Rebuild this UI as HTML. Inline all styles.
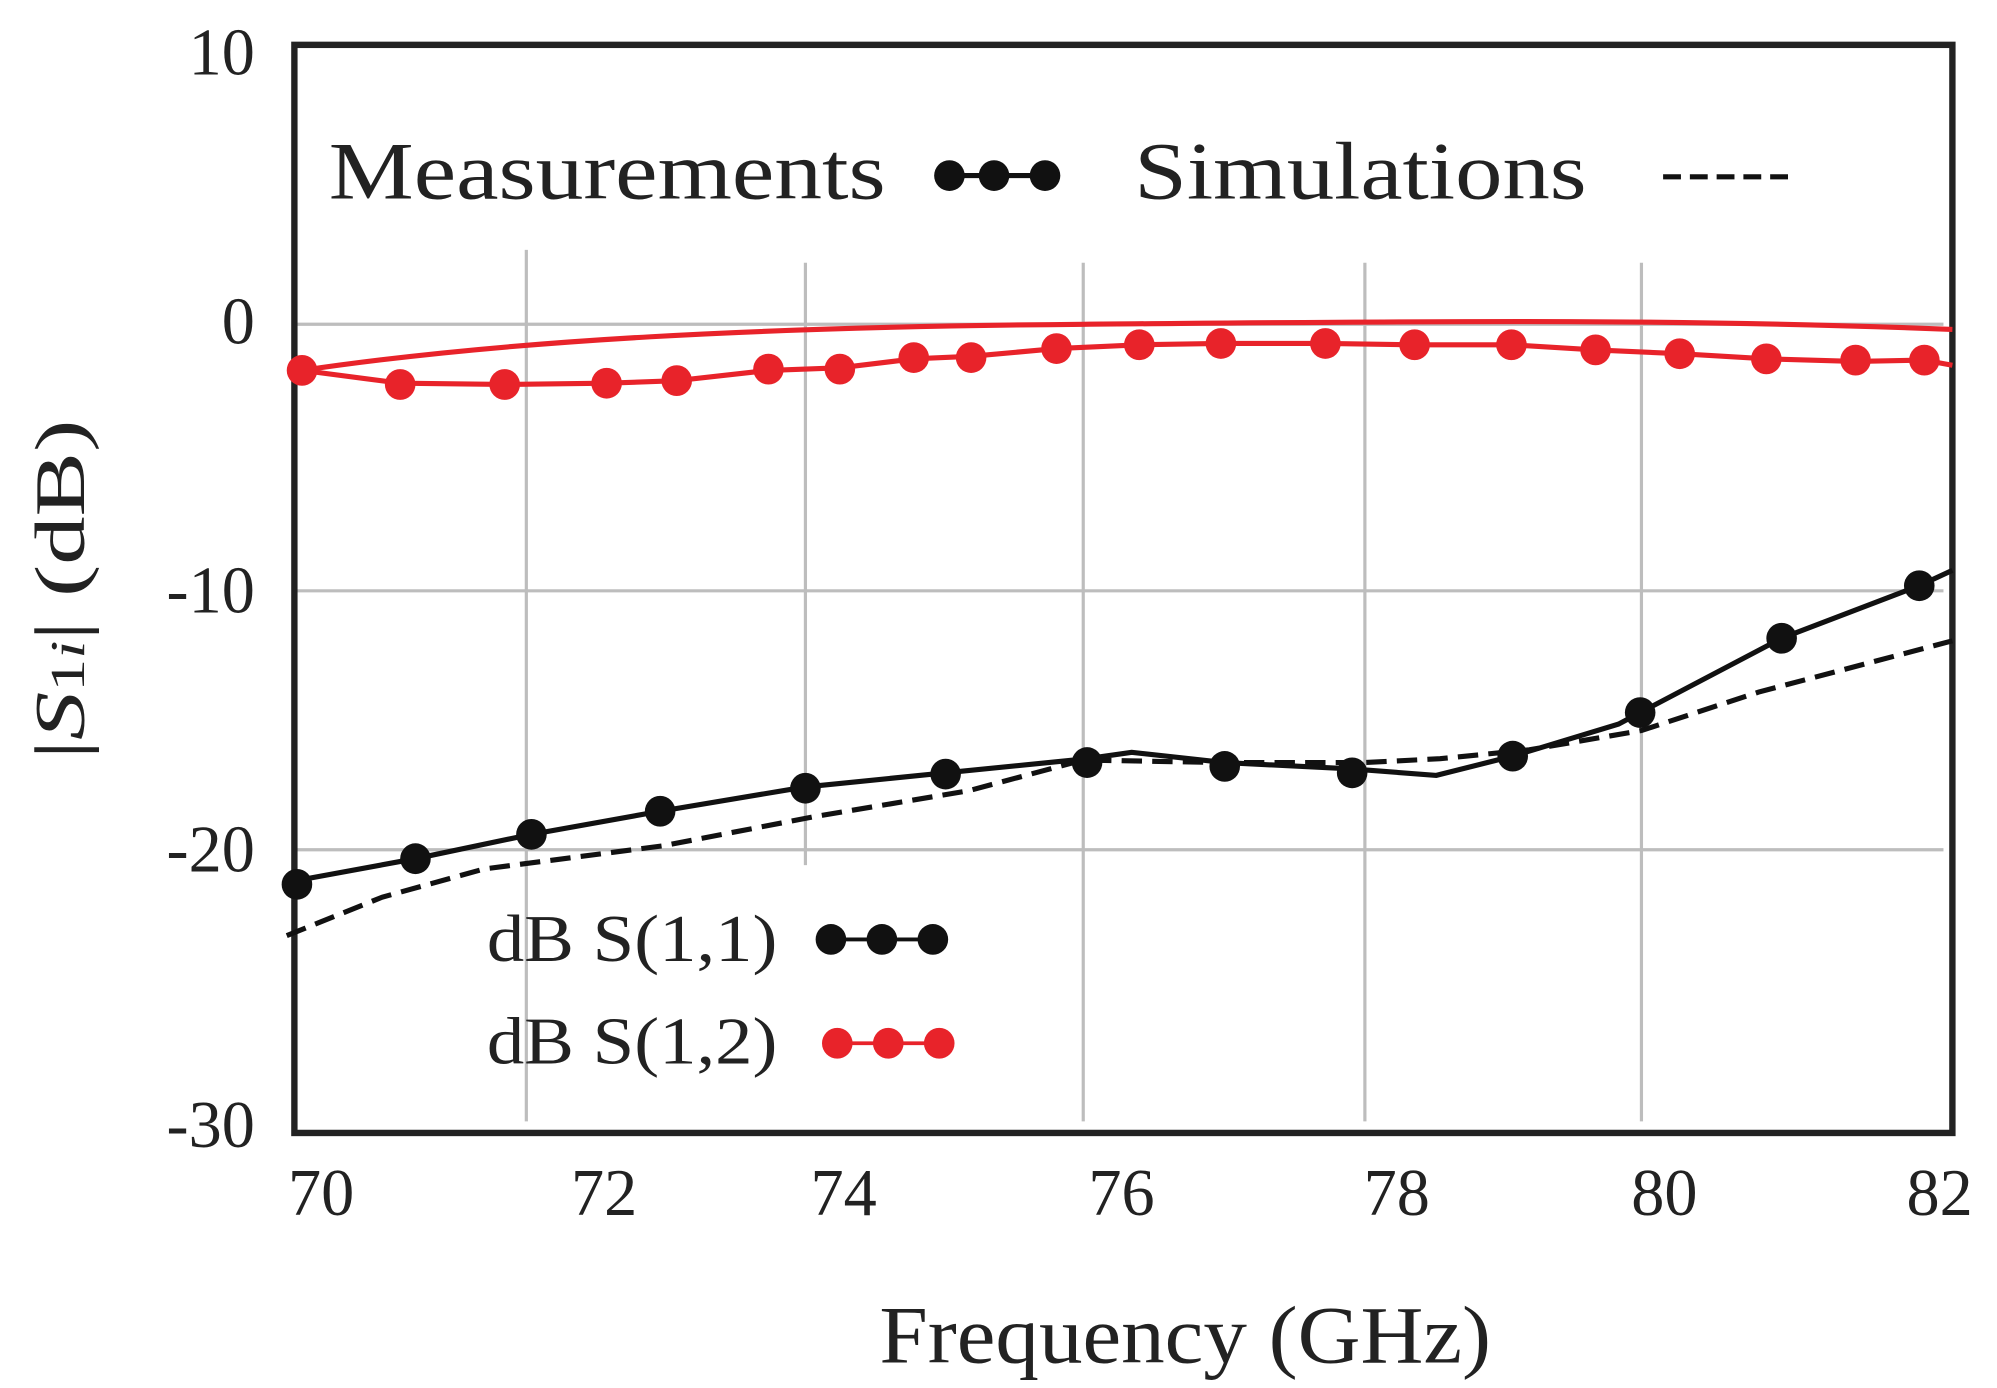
<!DOCTYPE html>
<html><head><style>html,body{margin:0;padding:0;background:#fff}svg{display:block}</style></head><body>
<svg width="1997" height="1388" viewBox="0 0 1567 1083" preserveAspectRatio="none" xmlns="http://www.w3.org/2000/svg" font-family="Liberation Serif, serif">
<g stroke="#bdbdbd" stroke-width="2.5">
<line x1="413" y1="195" x2="413" y2="875"/><line x1="632" y1="205" x2="632" y2="675"/><line x1="850" y1="205" x2="850" y2="875"/><line x1="1071" y1="205" x2="1071" y2="875"/><line x1="1288" y1="205" x2="1288" y2="875"/>
<line x1="231" y1="253" x2="1525" y2="253"/><line x1="231" y1="461" x2="1525" y2="461"/><line x1="231" y1="663" x2="1525" y2="663"/>
</g>
<rect x="231" y="35" width="1301" height="849" fill="none" stroke="#222" stroke-width="5"/>
<g font-size="52" fill="#222" text-anchor="end">
<text x="200" y="58">10</text><text x="200" y="268">0</text><text x="200" y="478">-10</text><text x="200" y="680">-20</text><text x="200" y="895">-30</text>
</g>
<g font-size="52" fill="#222" text-anchor="middle">
<text x="252" y="948">70</text><text x="474" y="948">72</text><text x="662" y="948">74</text><text x="880" y="948">76</text><text x="1096" y="948">78</text><text x="1306" y="948">80</text><text x="1522" y="948">82</text>
</g>
<text x="690" y="1063" font-size="64" fill="#222" textLength="480" lengthAdjust="spacingAndGlyphs">Frequency (GHz)</text>
<text transform="translate(66,460) rotate(-90)" font-size="56" fill="#222" text-anchor="middle" textLength="265" lengthAdjust="spacingAndGlyphs">|<tspan font-style="italic">S</tspan><tspan font-size="38">1<tspan font-style="italic">i</tspan></tspan>| (dB)</text>
<text x="258" y="155" font-size="64" fill="#222" textLength="437" lengthAdjust="spacingAndGlyphs">Measurements</text>
<text x="890" y="155" font-size="64" fill="#222" textLength="355" lengthAdjust="spacingAndGlyphs">Simulations</text>
<line x1="738" y1="137" x2="822" y2="137" stroke="#111" stroke-width="4"/>
<circle cx="745" cy="137" r="12" fill="#111"/><circle cx="780" cy="137" r="12" fill="#111"/><circle cx="820" cy="137" r="12" fill="#111"/>
<line x1="1305" y1="138" x2="1405" y2="138" stroke="#111" stroke-width="4" stroke-dasharray="14,7"/>
<text x="382" y="750" font-size="52" fill="#222" textLength="228" lengthAdjust="spacingAndGlyphs">dB S(1,1)</text>
<text x="382" y="830" font-size="52" fill="#222" textLength="228" lengthAdjust="spacingAndGlyphs">dB S(1,2)</text>
<line x1="652" y1="733" x2="732" y2="733" stroke="#111" stroke-width="3"/>
<circle cx="652" cy="733" r="12" fill="#111"/><circle cx="692" cy="733" r="12" fill="#111"/><circle cx="732" cy="733" r="12" fill="#111"/>
<line x1="657" y1="814" x2="737" y2="814" stroke="#e8232a" stroke-width="3"/>
<circle cx="657" cy="814" r="12" fill="#e8232a"/><circle cx="697" cy="814" r="12" fill="#e8232a"/><circle cx="737" cy="814" r="12" fill="#e8232a"/>
<polyline fill="none" stroke="#111" stroke-width="4" stroke-dasharray="16,8" points="225,730 300,700 380,678 520,660 640,637 760,617 850,593 960,595 1070,595 1130,592 1200,585 1288,570 1380,540 1532,500"/>
<polyline fill="none" stroke="#111" stroke-width="4" points="233,687 326,670 417,651 518,633 632,614 742,603 853,592 888,587 961,595 1061,600 1127,605 1187,590 1270,565 1287,556 1398,498 1506,457 1532,445"/>
<g fill="#111"><circle cx="233" cy="690" r="12"/><circle cx="326" cy="670" r="12"/><circle cx="417" cy="651" r="12"/><circle cx="518" cy="633" r="12"/><circle cx="632" cy="615" r="12"/><circle cx="742" cy="604" r="12"/><circle cx="853" cy="595" r="12"/><circle cx="961" cy="598" r="12"/><circle cx="1061" cy="603" r="12"/><circle cx="1187" cy="590" r="12"/><circle cx="1287" cy="556" r="12"/><circle cx="1398" cy="498" r="12"/><circle cx="1506" cy="457" r="12"/></g>
<path fill="none" stroke="#e8232a" stroke-width="4" d="M237,289 C400,265 600,255 850,253 S1300,248 1532,257"/>
<polyline fill="none" stroke="#e8232a" stroke-width="4" points="237,289 314,299 396,300 476,299 531,297 603,289 659,287 717,280 762,278 829,272 894,269 958,268 1040,268 1110,269 1186,269 1252,273 1318,276 1386,280 1456,282 1510,281 1532,285"/>
<g fill="#e8232a"><circle cx="237" cy="289" r="12"/><circle cx="314" cy="300" r="12"/><circle cx="396" cy="300" r="12"/><circle cx="476" cy="299" r="12"/><circle cx="531" cy="297" r="12"/><circle cx="603" cy="288" r="12"/><circle cx="659" cy="288" r="12"/><circle cx="717" cy="279" r="12"/><circle cx="762" cy="279" r="12"/><circle cx="829" cy="272" r="12"/><circle cx="894" cy="269" r="12"/><circle cx="958" cy="268" r="12"/><circle cx="1040" cy="268" r="12"/><circle cx="1110" cy="269" r="12"/><circle cx="1186" cy="269" r="12"/><circle cx="1252" cy="273" r="12"/><circle cx="1318" cy="276" r="12"/><circle cx="1386" cy="280" r="12"/><circle cx="1456" cy="281" r="12"/><circle cx="1510" cy="281" r="12"/></g>
</svg>
</body></html>
